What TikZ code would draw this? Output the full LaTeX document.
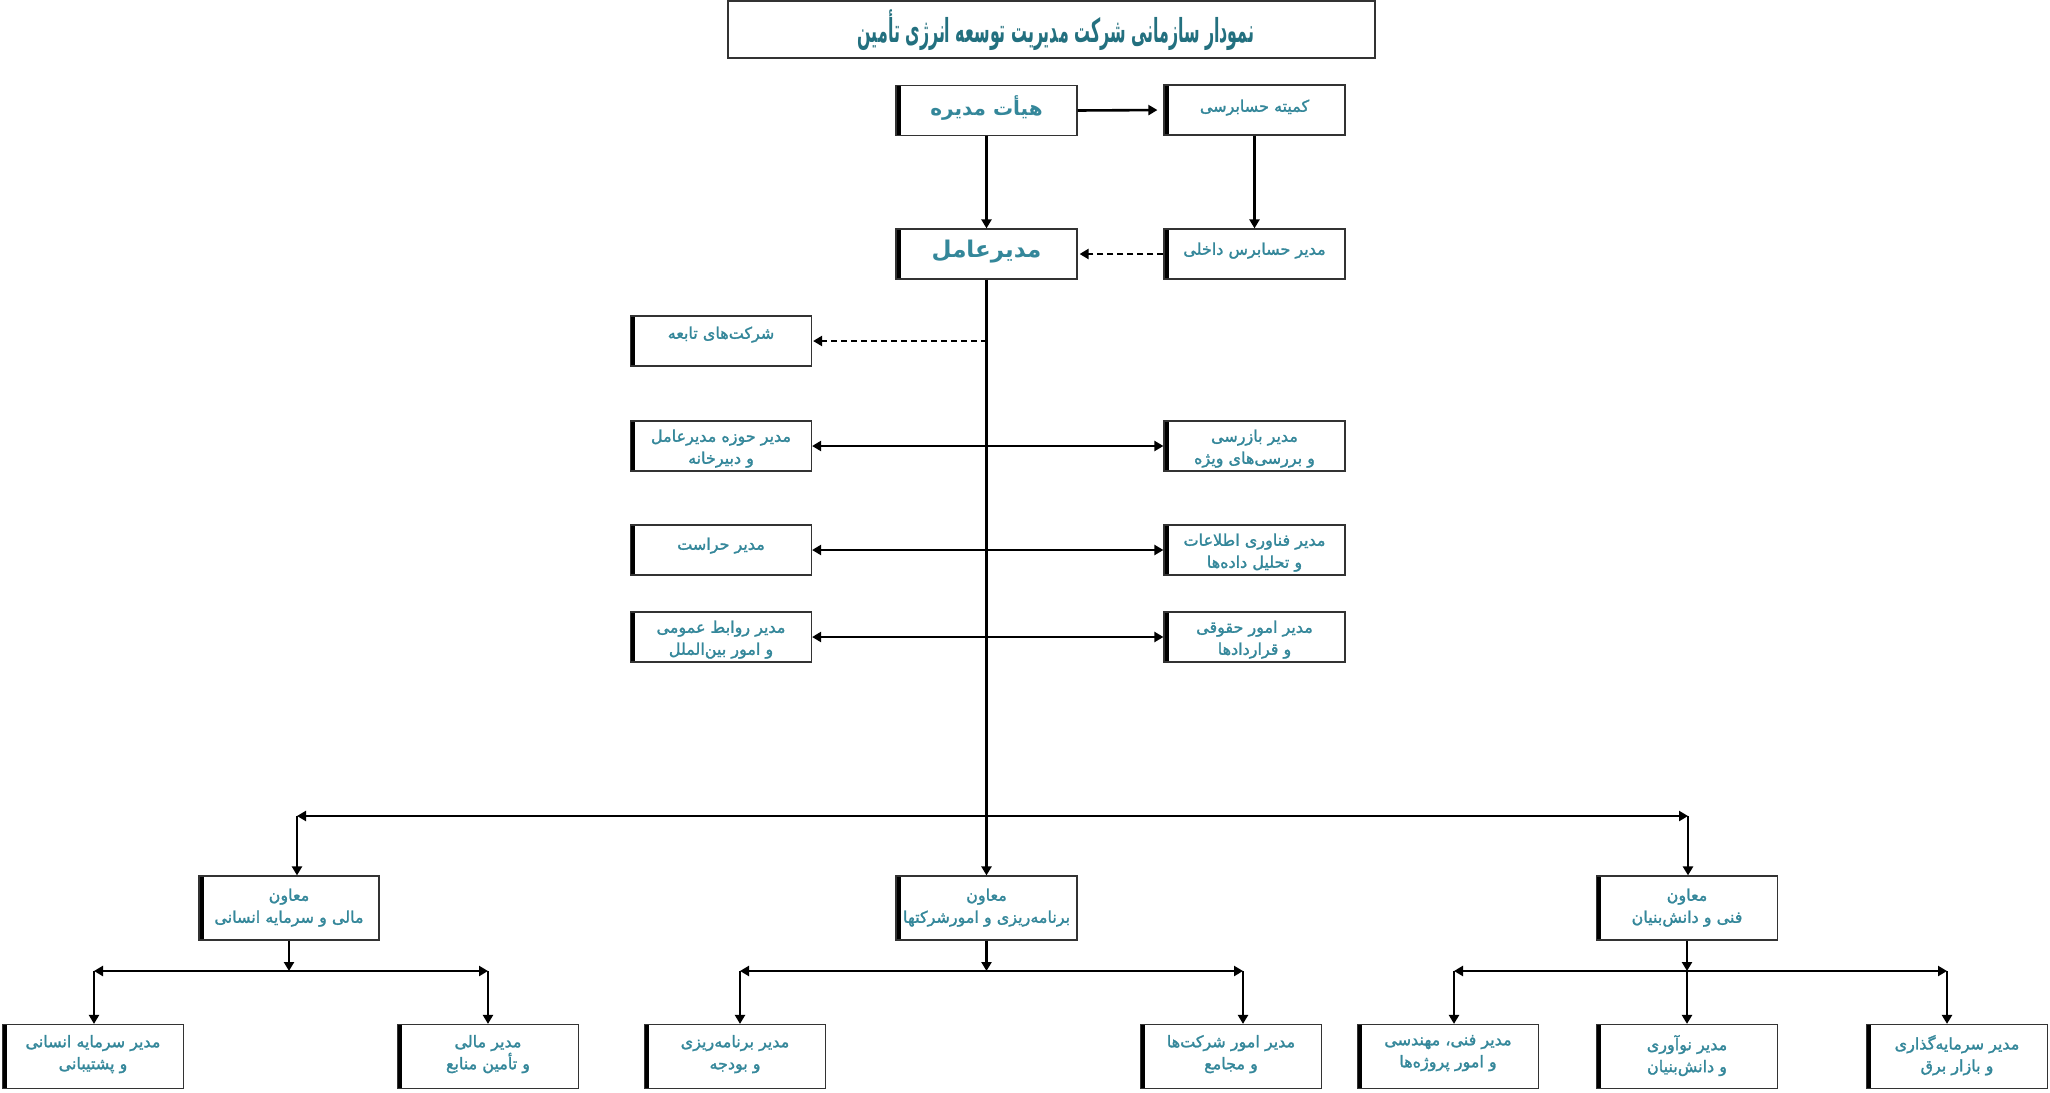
\documentclass[tikz,border=0pt]{standalone}
\usepackage{fontspec}
\usepackage{graphicx}
\usetikzlibrary{arrows.meta,calc}
\TeXXeTstate=1
\newfontfamily\persian[Script=Arabic,FakeBold=1.6]{DejaVu Sans}
\newfontfamily\persianbold[Script=Arabic]{DejaVu Sans Bold}
\newcommand\rtl[1]{\beginR #1\endR}
\definecolor{tealtxt}{HTML}{34879A}
\definecolor{tealtitle}{HTML}{23707F}
\tikzset{
  box/.style={draw=black!80, line width=1.2pt, fill=white, inner sep=0pt,
    minimum width=181pt, minimum height=50pt,
    path picture={\fill[black] (path picture bounding box.north west) rectangle ([xshift=4.5pt]path picture bounding box.south west);}},
  tallbox/.style={box, minimum height=64pt},
  txt/.style={font=\persian\fontsize{16}{22}\selectfont, text=tealtxt, align=center, inner sep=0pt, anchor=north},
  bigtxt/.style={font=\persianbold\fontsize{20}{24}\selectfont, text=tealtxt, align=center, inner sep=0pt, anchor=north},
  arr/.style={line width=2.6pt, -{Triangle[length=9pt,width=10pt]}},
  biarr/.style={line width=2.6pt, {Triangle[length=9pt,width=10pt]}-{Triangle[length=9pt,width=10pt]}},
  dasharr/.style={line width=2.6pt, dash pattern=on 6pt off 4pt, -{Triangle[length=9pt,width=10pt]}}
}
\begin{document}
\begin{tikzpicture}[x=1pt,y=-1pt]
\useasboundingbox[fill=white] (0,0) rectangle (2050,1092);

% title
\node[draw=black!80, line width=1.2pt, minimum width=647pt, minimum height=57pt, inner sep=0pt] (title) at (1051.5,29.5) {};
\node[font=\persianbold\fontsize{33}{36}\selectfont, text=tealtitle, inner sep=0pt] (titletext) at (1056,30) {\scalebox{0.48}[1]{\rtl{نمودار سازمانی شرکت مدیریت توسعه انرژی تأمین}}};

% top boxes
\node[box] (hb) at (986.5,110.5) {};
\node[bigtxt] (hbt) at ([yshift=-11pt]hb.north) {\rtl{هیأت مدیره}};
\node[box] (ac) at (1254.5,110) {};
\node[txt] (act) at ([yshift=-15pt]ac.north) {\rtl{کمیته حسابرسی}};
\node[box] (ceo) at (986.5,254) {};
\node[bigtxt, font=\persianbold\fontsize{23}{26}\selectfont] (ceot) at ([yshift=-11pt]ceo.north) {\rtl{مدیرعامل}};
\node[box] (ia) at (1254.5,254) {};
\node[txt] (iat) at ([yshift=-14pt]ia.north) {\rtl{مدیر حسابرس داخلی}};

% side boxes
\node[box] (sub) at (721,341) {};
\node[txt] (subt) at ([yshift=-11pt]sub.north) {\rtl{شرکت‌های تابعه}};
\node[box] (l1) at (721,446) {};
\node[txt] (l1t) at ([yshift=-9pt]l1.north) {\rtl{مدیر حوزه مدیرعامل}\\\rtl{و دبیرخانه}};
\node[box] (r1) at (1254.5,446) {};
\node[txt] (r1t) at ([yshift=-9pt]r1.north) {\rtl{مدیر بازرسی}\\\rtl{و بررسی‌های ویژه}};
\node[box] (l2) at (721,550) {};
\node[txt] (l2t) at ([yshift=-13pt]l2.north) {\rtl{مدیر حراست}};
\node[box] (r2) at (1254.5,550) {};
\node[txt] (r2t) at ([yshift=-9pt]r2.north) {\rtl{مدیر فناوری اطلاعات}\\\rtl{و تحلیل داده‌ها}};
\node[box] (l3) at (721,637) {};
\node[txt] (l3t) at ([yshift=-9pt]l3.north) {\rtl{مدیر روابط عمومی}\\\rtl{و امور بین‌الملل}};
\node[box] (r3) at (1254.5,637) {};
\node[txt] (r3t) at ([yshift=-9pt]r3.north) {\rtl{مدیر امور حقوقی}\\\rtl{و قراردادها}};

% deputies
\node[tallbox, minimum width=180pt] (mL) at (289,908) {};
\node[txt] (mLt) at ([yshift=-13pt]mL.north) {\rtl{معاون}\\\rtl{مالی و سرمایه انسانی}};
\node[tallbox] (mM) at (986.5,908) {};
\node[txt] (mMt) at ([yshift=-13pt]mM.north) {\rtl{معاون}\\\rtl{برنامه‌ریزی و امورشرکتها}};
\node[tallbox] (mR) at (1687,908) {};
\node[txt] (mRt) at ([yshift=-13pt]mR.north) {\rtl{معاون}\\\rtl{فنی و دانش‌بنیان}};

% bottom managers
\node[tallbox] (b1) at (93,1056.5) {};
\node[txt] (b1t) at ([yshift=-11pt]b1.north) {\rtl{مدیر سرمایه انسانی}\\\rtl{و پشتیبانی}};
\node[tallbox] (b2) at (488,1056.5) {};
\node[txt] (b2t) at ([yshift=-11pt]b2.north) {\rtl{مدیر مالی}\\\rtl{و تأمین منابع}};
\node[tallbox] (b3) at (735,1056.5) {};
\node[txt] (b3t) at ([yshift=-11pt]b3.north) {\rtl{مدیر برنامه‌ریزی}\\\rtl{و بودجه}};
\node[tallbox] (b4) at (1231,1056.5) {};
\node[txt] (b4t) at ([yshift=-11pt]b4.north) {\rtl{مدیر امور شرکت‌ها}\\\rtl{و مجامع}};
\node[tallbox] (b5) at (1448,1056.5) {};
\node[txt] (b5t) at ([yshift=-11pt]b5.north) {\rtl{مدیر فنی، مهندسی}\\\rtl{و امور پروژه‌ها}};
\node[tallbox] (b6) at (1687,1056.5) {};
\node[txt] (b6t) at ([yshift=-11pt]b6.north) {\rtl{مدیر نوآوری}\\\rtl{و دانش‌بنیان}};
\node[tallbox] (b7) at (1957,1056.5) {};
\node[txt] (b7t) at ([yshift=-11pt]b7.north) {\rtl{مدیر سرمایه‌گذاری}\\\rtl{و بازار برق}};

% coordinates
\coordinate (tsub) at (986.5,341);
\coordinate (busL) at (297,816);
\coordinate (busR) at (1688,816);
\coordinate (sL1) at (94,971);
\coordinate (sL2) at (488,971);
\coordinate (sM1) at (740,971);
\coordinate (sM2) at (1243,971);
\coordinate (sR1) at (1454,971);
\coordinate (sR2) at (1947,971);

% top connectors
\draw[arr, shorten >=6pt] (hb.east) -- (ac.west);
\draw[arr] (hb.south) -- (ceo.north);
\draw[arr] (ac.south) -- (ia.north);
\draw[dasharr, shorten >=2pt] (ia.west) -- (ceo.east);

% trunk
\draw[arr] (ceo.south) -- (mM.north);
\draw[dasharr, shorten >=1pt] (tsub) -- (sub.east);
\draw[biarr] (l1.east) -- (r1.west);
\draw[biarr] (l2.east) -- (r2.west);
\draw[biarr] (l3.east) -- (r3.west);

% main bus
\draw[biarr] (busL) -- (busR);
\draw[arr] (busL) -- (busL |- mL.north);
\draw[arr] (busR) -- (busR |- mR.north);

% left group
\draw[arr] (mL.south) -- (mL.south |- sL1);
\draw[biarr] (sL1) -- (sL2);
\draw[arr] (sL1) -- (sL1 |- b1.north);
\draw[arr] (sL2) -- (sL2 |- b2.north);

% middle group
\draw[arr] (mM.south) -- (mM.south |- sM1);
\draw[biarr] (sM1) -- (sM2);
\draw[arr] (sM1) -- (sM1 |- b3.north);
\draw[arr] (sM2) -- (sM2 |- b4.north);

% right group
\draw[arr] (mR.south) -- (mR.south |- sR1);
\draw[biarr] (sR1) -- (sR2);
\draw[arr] (sR1) -- (sR1 |- b5.north);
\draw[arr] (mR.south |- sR1) -- (b6.north);
\draw[arr] (sR2) -- (sR2 |- b7.north);
\end{tikzpicture}
\end{document}
